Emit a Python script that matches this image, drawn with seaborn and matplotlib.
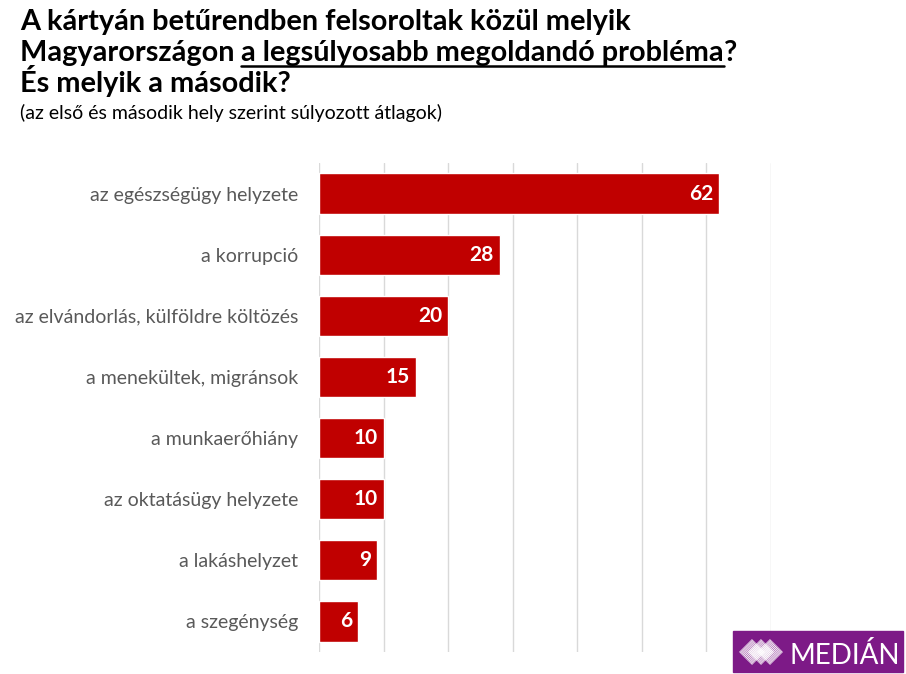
import matplotlib
matplotlib.use("Agg")
import matplotlib.pyplot as plt
import matplotlib.patches as mpatches
import matplotlib.lines as mlines
import seaborn as sns
import pandas as pd

categories = [
    "az egészségügy helyzete",
    "a korrupció",
    "az elvándorlás, külföldre költözés",
    "a menekültek, migránsok",
    "a munkaerőhiány",
    "az oktatásügy helyzete",
    "a lakáshelyzet",
    "a szegénység",
]
values = [62, 28, 20, 15, 10, 10, 9, 6]

df = pd.DataFrame({"kategoria": categories, "ertek": values})

sns.set_theme(style="white")
plt.rcParams["font.family"] = ["Lato", "DejaVu Sans"]

W, H = 906, 674
fig = plt.figure(figsize=(W / 100, H / 100), dpi=100)
ax = fig.add_axes([319 / W, 1 - 652 / H, (771 - 319) / W, (652 - 163) / H])

sns.barplot(data=df, x="ertek", y="kategoria", color="#C00000", width=0.66,
            saturation=1, ax=ax, zorder=3)

ax.set_xlim(0, 70)
ax.set_xticks(range(0, 71, 10))
ax.grid(axis="x", color="#D9D9D9", linewidth=1, zorder=0)
ax.tick_params(axis="x", length=0, labelbottom=False)
ax.tick_params(axis="y", length=0, pad=15, labelsize=14, labelcolor="#595959")
ax.set_xlabel("")
ax.set_ylabel("")
for s in ax.spines.values():
    s.set_visible(False)

for i, v in enumerate(values):
    ax.text(v - 0.9, i, str(v), ha="right", va="center", color="white",
            fontsize=15, fontweight="bold", zorder=4)

# title with underlined part
tsize = 20.8
fig.text(20 / W, 1 - 30 / H, "A kártyán betűrendben felsoroltak közül melyik",
         fontsize=tsize, fontweight="bold", color="black")
fig.canvas.draw()
r = fig.canvas.get_renderer()
t1 = fig.text(20 / W, 1 - 61 / H, "Magyarországon ", fontsize=tsize,
              fontweight="bold", color="black")
x1 = t1.get_window_extent(r).x1
t2 = fig.text(x1 / W, 1 - 61 / H, "a legsúlyosabb megoldandó probléma",
              fontsize=tsize, fontweight="bold", color="black")
bb = t2.get_window_extent(r)
fig.add_artist(mlines.Line2D([bb.x0 / W, bb.x1 / W], [1 - 66 / H, 1 - 66 / H],
                             color="black", linewidth=1.8))
fig.text(bb.x1 / W, 1 - 61 / H, "?", fontsize=tsize, fontweight="bold", color="black")
fig.text(20 / W, 1 - 92 / H, "És melyik a második?", fontsize=tsize,
         fontweight="bold", color="black")
fig.text(20 / W, 1 - 119 / H, "(az első és második hely szerint súlyozott átlagok)",
         fontsize=14, color="black")

# logo
fig.add_artist(mpatches.Rectangle((733 / W, 1 - 672 / H), 170 / W, 41 / H,
                                  transform=fig.transFigure, color="#7D1A87"))
for dx in (0, 9, 18):
    cx, cy = 752 + dx, 652
    diamond = mpatches.Polygon([((cx - 13) / W, 1 - cy / H), (cx / W, 1 - (cy - 13) / H),
                                ((cx + 13) / W, 1 - cy / H), (cx / W, 1 - (cy + 13) / H)],
                               closed=True, transform=fig.transFigure,
                               facecolor="#7D1A87", edgecolor="none")
    fig.add_artist(diamond)
    for k in range(-7, 8):
        off = k * 1.9
        ln = mlines.Line2D([(cx - 14 + off) / W, (cx + 14 + off) / W],
                           [1 - (cy + 14) / H, 1 - (cy - 14) / H],
                           color="white", linewidth=0.7, transform=fig.transFigure)
        ln.set_clip_path(diamond)
        fig.add_artist(ln)
fig.text(789 / W, 1 - 664 / H, "MEDIÁN", fontsize=20, color="white")

fig.savefig("out.png", dpi=100)
